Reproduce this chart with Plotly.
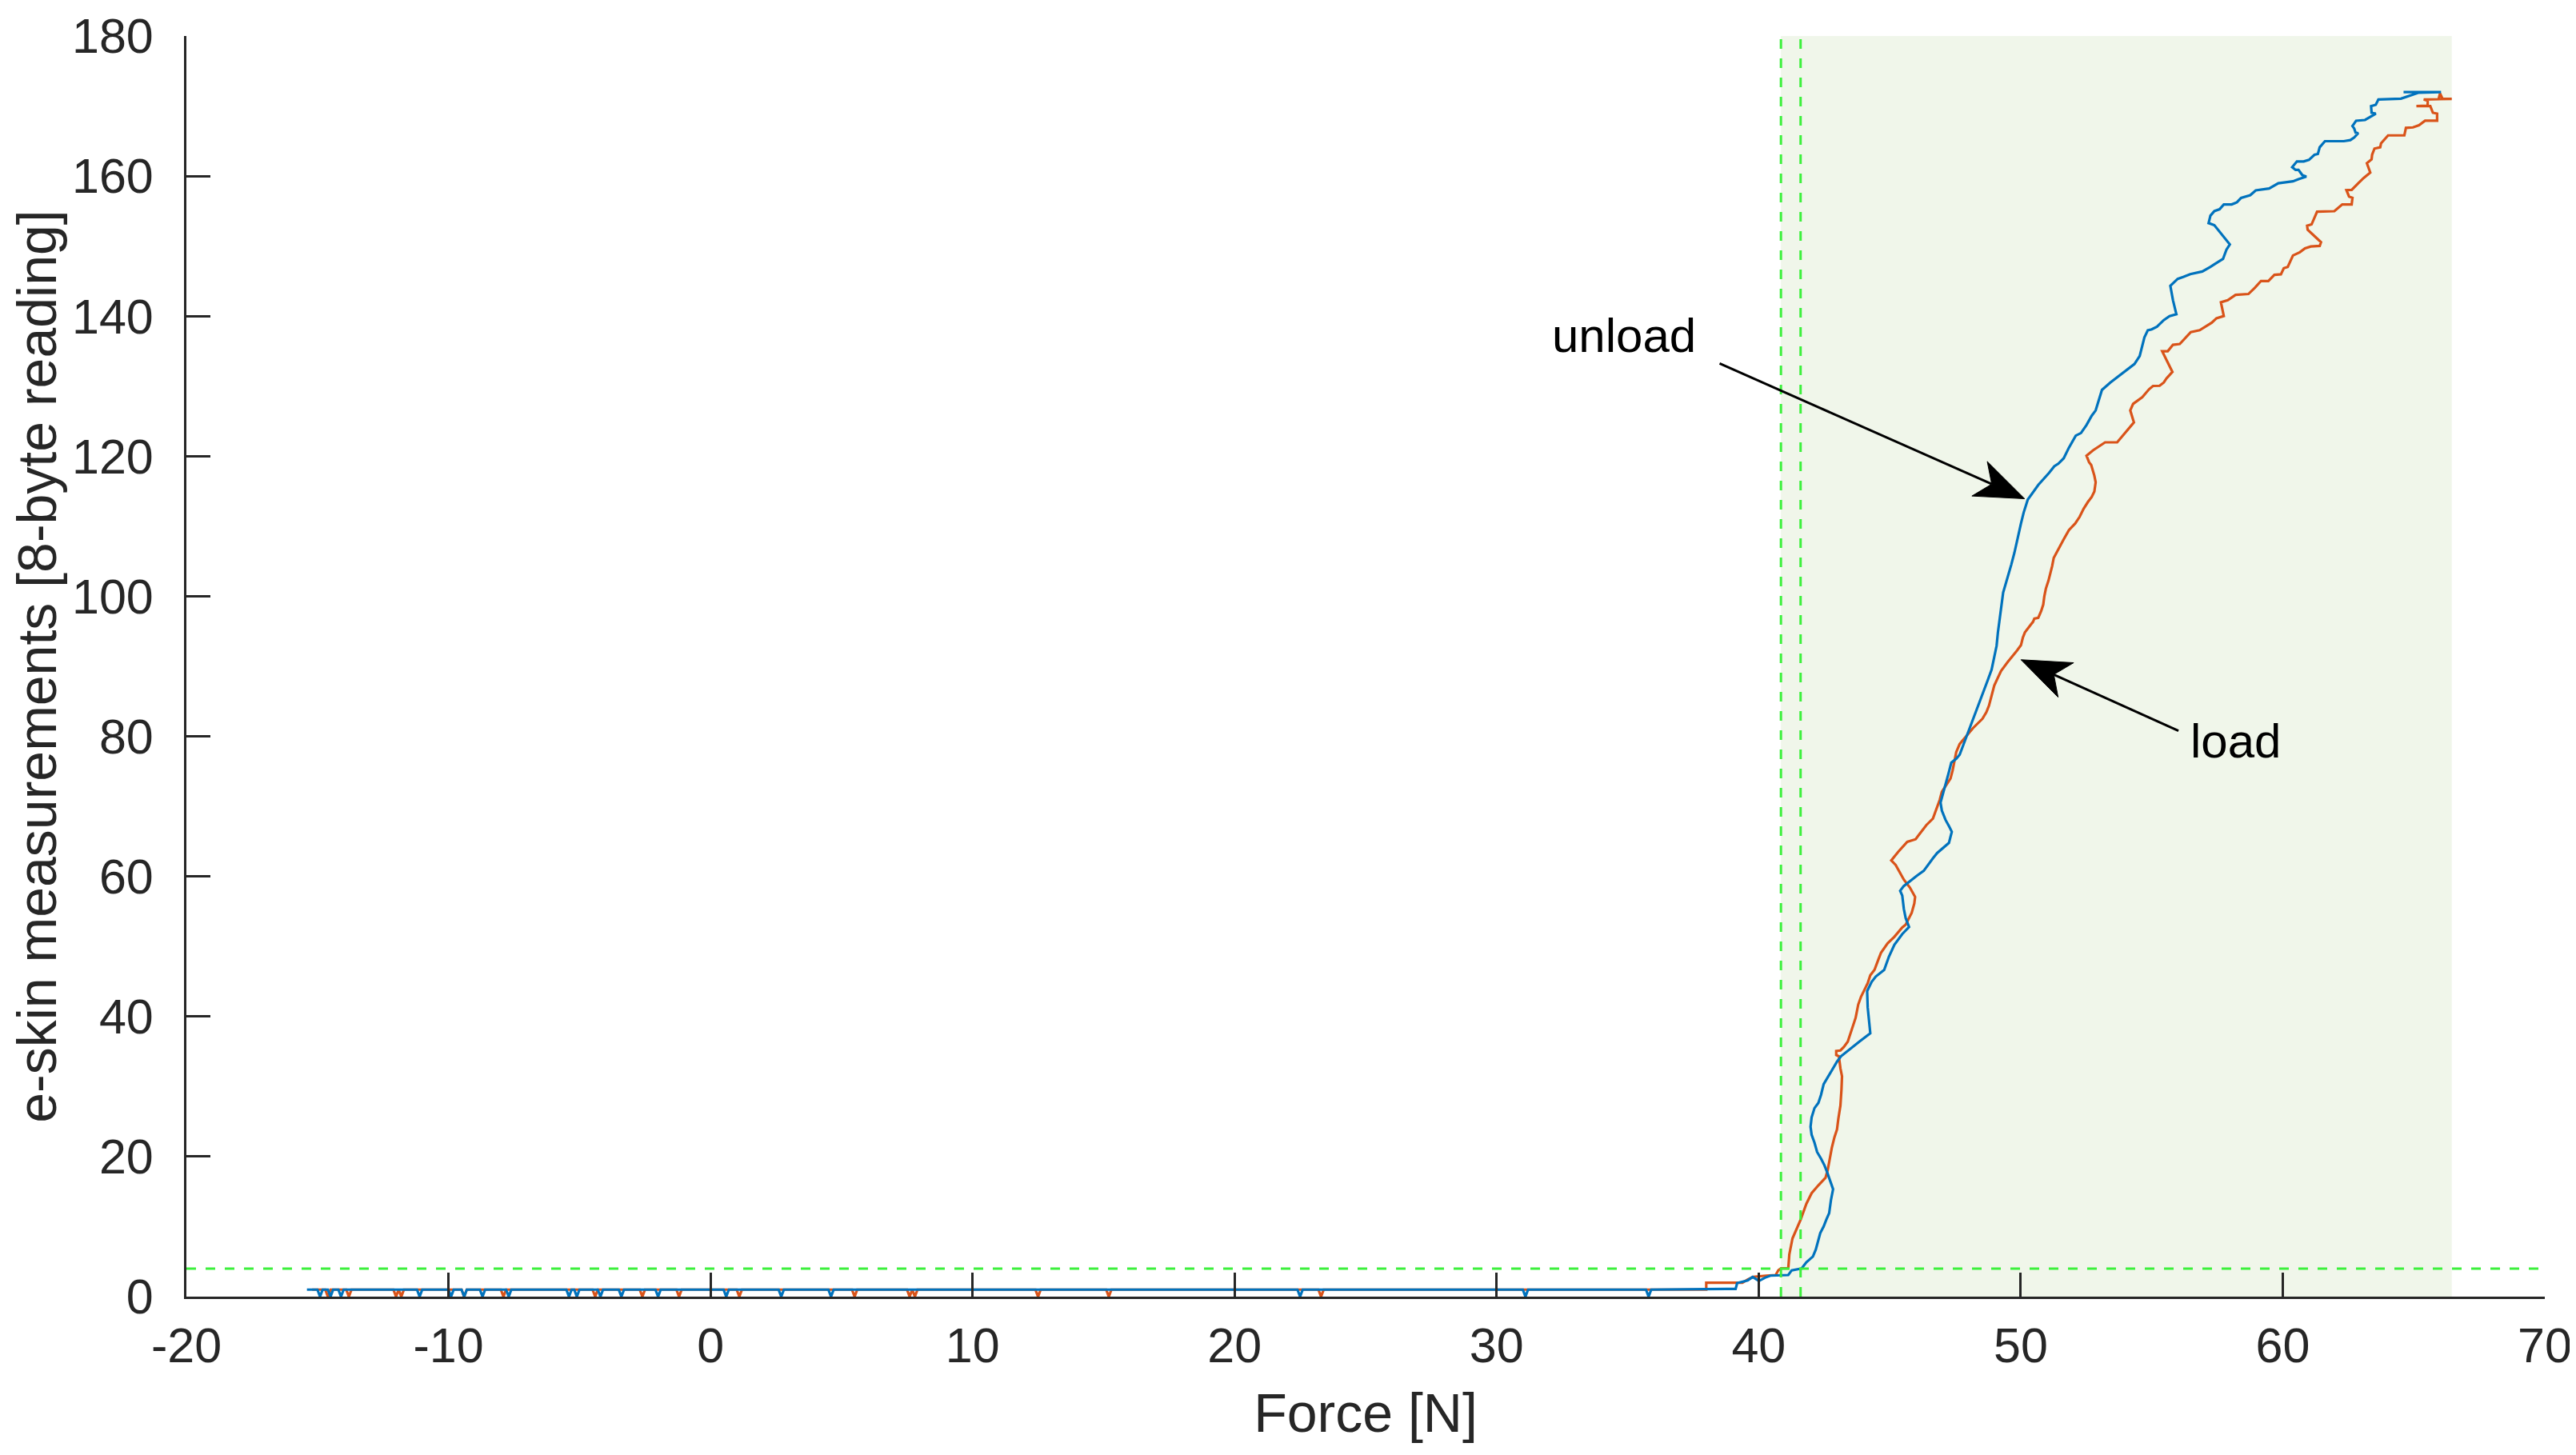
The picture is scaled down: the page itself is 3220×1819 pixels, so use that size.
import math
import plotly.graph_objects as go

# axes
x_range = [-20, 70]
y_range = [0, 180]
x_ticks = [-20, -10, 0, 10, 20, 30, 40, 50, 60, 70]
x_tick_labels = ["-20", "-10", "0", "10", "20", "30", "40", "50", "60", "70"]
y_ticks = [0, 20, 40, 60, 80, 100, 120, 140, 160, 180]
y_tick_labels = ["0", "20", "40", "60", "80", "100", "120", "140", "160", "180"]

# threshold lines and contact region
threshold_value = 4
contact_lines = [40.85, 41.6]
contact_region = [40.85, 66.45]

# load curve (orange), force [N] / e-skin reading
load_force = [
    -15.2, -14.7, -14.6, -14.5, -13.9, -13.8, -13.7, -12.1, -12.0, -11.9, -11.8, -11.7,
    -9.5, -9.4, -9.3, -8.0, -7.9, -7.8, -4.5, -4.4, -4.3, -2.7, -2.6, -2.5, -1.3, -1.2, -1.1,
    1.0, 1.1, 1.2, 5.4, 5.5, 5.6, 7.5, 7.6, 7.7, 7.8, 7.9, 12.4, 12.5, 12.6,
    15.1, 15.2, 15.3, 23.2, 23.3, 23.4, 38.0, 38.0,
    39.38, 39.58, 39.79, 40.29, 40.65, 40.75, 40.85, 41.13,
    41.17, 41.29, 41.43, 41.60, 41.82, 42.02, 42.28, 42.55, 42.64, 42.69, 42.79, 42.89,
    42.99, 43.04, 43.12, 43.16, 43.18, 43.12, 43.09, 43.06, 42.96, 42.96, 43.12, 43.25,
    43.40, 43.50, 43.60, 43.70, 43.80, 43.91, 44.06, 44.16, 44.26, 44.42, 44.57, 44.67,
    44.92, 45.18, 45.48, 45.61, 45.84, 45.94, 45.97, 45.84, 45.77,
    45.54, 45.23, 45.06, 45.33, 45.67, 45.99, 46.09, 46.40, 46.65, 46.76, 46.91, 46.99,
    47.21, 47.32, 47.40, 47.47, 47.54, 47.67, 47.87, 48.18, 48.54, 48.69, 48.79, 48.89,
    48.99, 49.13, 49.25, 49.50, 49.71, 49.86, 50.01, 50.08, 50.16, 50.32, 50.47, 50.52,
    50.67, 50.78, 50.86, 50.90, 50.96, 51.06, 51.13, 51.20, 51.26, 51.39, 51.49, 51.64,
    51.84, 52.08, 52.25, 52.40, 52.56, 52.71, 52.81, 52.86, 52.81,
    52.69, 52.61, 52.51, 52.76, 53.22, 53.68, 53.93, 54.32, 54.18, 54.29, 54.64, 54.90,
    55.05, 55.30, 55.46, 55.56, 55.79, 55.66, 55.51, 55.40, 55.61, 55.81, 56.07, 56.27,
    56.49, 56.83, 57.03, 57.29, 57.47, 57.75, 57.64, 57.90, 58.20, 58.69, 58.94, 59.17,
    59.45, 59.68, 59.93, 60.04, 60.19, 60.39, 60.65, 60.85, 61.07, 61.41, 61.46, 61.21,
    60.95, 60.93, 61.10, 61.31, 61.97, 62.27, 62.63, 62.66, 62.53, 62.43, 62.63, 62.88,
    63.09, 63.34, 63.21, 63.39, 63.41, 63.50, 63.72, 63.75, 64.02, 64.64, 64.70, 64.97,
    65.20, 65.43, 65.89, 65.89, 65.73, 65.63, 65.10, 65.53, 65.53, 65.38, 66.45,
    66.10, 66.00, 65.95,
]
load_value = [
    1, 1, 0, 1, 1, 0, 1, 1, 0, 1, 0, 1,
    1, 0, 1, 1, 0, 1, 1, 0, 1, 1, 0, 1, 1, 0, 1,
    1, 0, 1, 1, 0, 1, 1, 0, 1, 0, 1, 1, 0, 1,
    1, 0, 1, 1, 0, 1, 1, 2,
    1.98, 2.43, 2.81, 3.00, 3.08, 3.76, 4.03, 4.03,
    6.04, 8.31, 9.45, 10.97, 13.25, 14.77, 15.90, 16.97, 18.18, 19.32, 21.22, 22.74,
    23.87, 25.39, 27.29, 29.57, 31.46, 32.60, 33.74, 34.31, 34.50, 35.07, 35.15, 35.64,
    36.40, 37.54, 38.68, 39.81, 41.71, 42.85, 43.99, 44.75, 45.89, 46.65, 48.16, 49.11,
    50.44, 51.39, 52.72, 53.10, 54.80, 56.13, 57.08, 57.84, 58.41,
    59.54, 61.63, 62.28, 63.53, 64.94, 65.31, 65.81, 67.33, 68.27, 69.41, 70.93, 72.07,
    73.40, 73.97, 75.11, 76.24, 77.76, 78.90, 79.85, 81.18, 82.51, 83.46, 84.40, 85.73,
    87.25, 88.39, 89.34, 90.59, 91.50, 92.26, 93.02, 94.08, 94.84, 95.60, 96.36, 96.81,
    96.93, 97.88, 98.82, 99.96, 101.10, 102.24, 103.19, 104.33, 105.47, 106.41, 107.17, 108.12,
    109.45, 110.40, 111.35, 112.49, 113.44, 114.19, 114.95, 116.28, 117.23,
    118.76, 119.13, 120.08, 120.84, 121.98, 121.98, 123.12, 124.83, 126.54, 127.48, 128.43, 129.57,
    130.03, 130.06, 130.52, 131.09, 132.04, 132.99, 134.12, 134.99, 134.99, 135.91, 136.02, 136.89,
    137.73, 137.99, 138.41, 139.06, 139.70, 140.01, 141.98, 142.28, 143.04, 143.16, 144.07, 145.02,
    145.02, 145.89, 145.97, 146.84, 147.03, 148.66, 149.12, 149.68, 149.95, 150.03, 150.56, 151.47,
    152.34, 152.91, 153.10, 154.92, 154.99, 155.95, 155.95, 156.89, 157.08, 157.99, 158.03, 158.98,
    159.74, 160.50, 161.83, 162.40, 163.04, 163.92, 164.11, 164.67, 165.81, 165.81, 166.88, 166.95,
    167.26, 167.90, 167.90, 168.92, 169.04, 169.99, 169.99, 170.06, 170.75, 170.94, 171.01,
    171.01, 171.80, 171.01,
]

# unload curve (blue), from max force back to the start
unload_force = [
    64.61, 66.04, 65.17, 64.82, 64.51, 63.65, 63.55, 63.37, 63.39, 63.55, 63.29, 63.14,
    62.80, 62.66, 62.73, 62.78, 62.88, 62.73, 62.58, 62.33, 61.61, 61.41, 61.34, 61.21,
    61.00, 60.80, 60.54, 60.36, 60.49, 60.60, 60.75, 60.90, 60.60, 60.39, 59.83, 59.48,
    58.97, 58.76, 58.41, 58.25, 58.05, 57.75, 57.59, 57.39, 57.24, 57.17, 57.39, 57.64,
    57.98, 57.85, 57.72, 57.44, 57.24, 56.93, 56.47, 56.22, 55.99, 55.71, 55.81, 55.94,
    55.68, 55.46, 55.20, 55.00, 54.85, 54.72, 54.64, 54.54, 54.34, 54.08, 53.78, 53.42,
    53.10, 52.96, 52.86, 52.71, 52.51, 52.30, 52.10, 51.84, 51.64, 51.44, 51.28,
    51.08, 50.67, 50.27, 50.22, 50.11, 50.01, 49.91, 49.84, 49.76, 49.64, 49.53, 49.43,
    49.33, 49.25, 49.17, 49.13, 49.08, 49.00, 48.89, 48.74, 48.59, 48.44, 48.28, 48.13,
    47.98, 47.82, 47.67, 47.54, 47.42, 47.35, 47.26, 47.16, 47.06, 46.98, 46.94, 46.99,
    47.13, 47.27, 47.37, 47.26, 47.11, 46.81, 46.65, 46.45, 46.30, 46.04, 45.79, 45.53,
    45.40, 45.48, 45.54, 45.61, 45.74, 45.48, 45.18, 44.97, 44.79, 44.47, 44.31, 44.14,
    44.16, 44.21, 44.26, 43.86, 43.45, 43.14, 42.99, 42.84, 42.64, 42.48, 42.38, 42.28,
    42.13, 42.02, 41.98, 42.02, 42.13, 42.23, 42.38, 42.51, 42.61, 42.74, 42.84, 42.76,
    42.69, 42.58, 42.48, 42.35, 42.25, 42.18, 42.07, 41.82, 41.64, 41.26, 41.13, 40.45,
    40.24, 40.01, 39.77, 39.58, 39.18, 39.12, 38.77,
    35.9, 35.8, 35.7, 31.2, 31.1, 31.0, 22.6, 22.5, 22.4, 4.7, 4.6, 4.5, 2.8, 2.7, 2.6,
    0.7, 0.6, 0.5, -1.9, -2.0, -2.1, -3.3, -3.4, -3.5, -4.1, -4.2, -4.3, -5.0, -5.1, -5.2,
    -5.3, -5.4, -5.5, -7.6, -7.7, -7.8, -8.6, -8.7, -8.8, -9.3, -9.4, -9.5, -9.8, -9.9, -10.0,
    -11.0, -11.1, -11.2, -14.0, -14.1, -14.2, -14.4, -14.5, -14.6, -14.8, -14.9, -15.0, -15.4,
]
unload_value = [
    172.00, 172.00, 171.89, 171.43, 171.05, 170.94, 170.18, 169.99, 169.04, 168.92, 168.28, 168.01,
    167.90, 167.14, 166.76, 166.19, 166.12, 165.51, 165.13, 164.98, 164.98, 164.11, 163.16, 163.04,
    162.32, 162.09, 162.09, 161.26, 160.88, 160.88, 160.12, 159.93, 159.55, 159.25, 158.98, 158.22,
    157.96, 157.27, 156.89, 156.25, 155.95, 155.95, 155.26, 155.00, 154.35, 153.29, 152.99, 151.85,
    150.25, 149.49, 148.17, 147.52, 147.03, 146.38, 146.00, 145.62, 145.32, 144.33, 142.28, 140.27,
    140.01, 139.44, 138.49, 138.11, 137.99, 136.97, 135.64, 134.31, 133.17, 132.42, 131.54, 130.52,
    129.46, 127.86, 126.54, 125.78, 124.45, 123.31, 122.93, 121.22, 119.70, 118.94, 118.56,
    117.61, 115.90, 113.81, 113.25, 111.92, 110.40, 108.69, 107.74, 106.22, 104.52, 103.00, 101.86,
    100.53, 98.25, 96.36, 94.84, 92.94, 91.42, 89.53, 88.01, 86.49, 84.97, 83.45, 81.94,
    80.42, 78.90, 77.38, 76.81, 76.43, 76.24, 74.92, 73.59, 72.26, 71.31, 70.55, 69.41,
    68.08, 67.13, 66.38, 64.78, 64.29, 63.34, 62.58, 61.63, 60.80, 60.11, 59.36, 58.60,
    57.95, 57.27, 55.37, 54.05, 52.79, 51.77, 50.25, 48.54, 46.65, 45.70, 44.94, 43.61,
    41.33, 39.43, 37.61, 36.47, 35.26, 34.31, 33.55, 32.60, 31.47, 30.33, 28.81, 27.67,
    26.91, 25.58, 24.25, 23.12, 21.98, 20.65, 19.70, 18.75, 17.80, 16.47, 15.34, 13.82,
    11.92, 10.97, 10.02, 9.07, 7.56, 6.72, 5.73, 4.90, 4.03, 3.76, 3.08, 3.00,
    2.70, 2.24, 2.81, 2.32, 1.94, 1.10, 1.10,
    1, 0, 1, 1, 0, 1, 1, 0, 1, 1, 0, 1, 1, 0, 1,
    1, 0, 1, 1, 0, 1, 1, 0, 1, 1, 0, 1, 1, 0, 1,
    1, 0, 1, 1, 0, 1, 1, 0, 1, 1, 0, 1, 1, 0, 1,
    1, 0, 1, 1, 0, 1, 1, 0, 1, 1, 0, 1, 1,
]

# annotations: label text position, arrow tail, arrow tip
unload_label = ("unload", 34.85, 137.2)
unload_arrow = [(38.51, 133.25), (50.15, 113.93)]
load_label = ("load", 58.2, 79.3)
load_arrow = [(56.02, 80.80), (50.01, 90.94)]

W, H = 3220, 1819
margin = dict(l=225, r=47, t=37, b=206)
kx = (W - margin["l"] - margin["r"]) / (x_range[1] - x_range[0])
ky = (H - margin["t"] - margin["b"]) / (y_range[1] - y_range[0])

BLUE = "#0072BD"
ORANGE = "#D95319"
GREEN = "rgb(60,240,60)"
INK = "#262626"
FONT = "Liberation Sans, Arial, Helvetica, sans-serif"


def arrow_head(tail, tip, length=66, half_angle=21, notch=45):
    # matlab-like narrow head, built in pixel space then mapped back to data units
    dx = (tail[0] - tip[0]) * kx
    dy = (tail[1] - tip[1]) * ky
    d = math.hypot(dx, dy)
    ux, uy = dx / d, dy / d
    nx, ny = -uy, ux
    ca, sa = math.cos(math.radians(half_angle)), math.sin(math.radians(half_angle))
    pts = [(0, 0),
           (length * (ux * ca + nx * sa), length * (uy * ca + ny * sa)),
           (notch * ux, notch * uy),
           (length * (ux * ca - nx * sa), length * (uy * ca - ny * sa)),
           (0, 0)]
    xs = [tip[0] + px / kx for px, py in pts]
    ys = [tip[1] + py / ky for px, py in pts]
    return xs, ys, (xs[2], ys[2])


fig = go.Figure()

fig.add_trace(go.Scatter(x=load_force, y=load_value, mode="lines", name="load",
                         line=dict(color=ORANGE, width=3.2)))
fig.add_trace(go.Scatter(x=unload_force, y=unload_value, mode="lines", name="unload",
                         line=dict(color=BLUE, width=3.2)))

# dashed green threshold / contact lines
fig.add_trace(go.Scatter(x=[x_range[0], 69.8], y=[threshold_value, threshold_value], mode="lines",
                         line=dict(color=GREEN, width=3, dash="12px,12px")))
for cx in contact_lines:
    fig.add_trace(go.Scatter(x=[cx, cx], y=y_range, mode="lines",
                             line=dict(color=GREEN, width=3, dash="12px,12px")))

# arrows
for tail, tip in [unload_arrow, load_arrow]:
    hx, hy, notch_pt = arrow_head(tail, tip)
    fig.add_trace(go.Scatter(x=[tail[0], notch_pt[0]], y=[tail[1], notch_pt[1]], mode="lines",
                             line=dict(color="black", width=3)))
    fig.add_trace(go.Scatter(x=hx, y=hy, mode="lines", fill="toself", fillcolor="black",
                             line=dict(color="black", width=1)))

fig.add_shape(type="rect", x0=contact_region[0], x1=contact_region[1], y0=y_range[0], y1=y_range[1],
              fillcolor="#F0F6EA", line=dict(width=0), layer="below")

for text, tx, ty in [unload_label, load_label]:
    fig.add_annotation(x=tx, y=ty, text=text, showarrow=False, xanchor="center", yanchor="middle",
                       font=dict(family=FONT, size=60, color="black"))

axis_common = dict(showgrid=False, zeroline=False, showline=True, linecolor=INK, linewidth=3,
                   ticks="inside", ticklen=30, tickwidth=2.5, tickcolor=INK, mirror=False,
                   ticklabeloverflow="allow", automargin=False,
                   tickfont=dict(family=FONT, size=61, color=INK))

fig.update_layout(
    width=W, height=H, margin=margin,
    paper_bgcolor="white", plot_bgcolor="white",
    showlegend=False,
    xaxis=dict(range=x_range, tickvals=x_ticks, ticktext=x_tick_labels, ticklabelstandoff=6,
               title=dict(text="Force [N]", font=dict(family=FONT, size=68, color=INK), standoff=28),
               **axis_common),
    yaxis=dict(range=[y_range[0], y_range[1] + 0.001], tickvals=y_ticks, ticktext=y_tick_labels,
               ticklabelstandoff=26,
               title=dict(text="e-skin measurements [8-byte reading]",
                          font=dict(family=FONT, size=68, color=INK), standoff=22),
               **axis_common),
)

fig.write_html("out.html")
